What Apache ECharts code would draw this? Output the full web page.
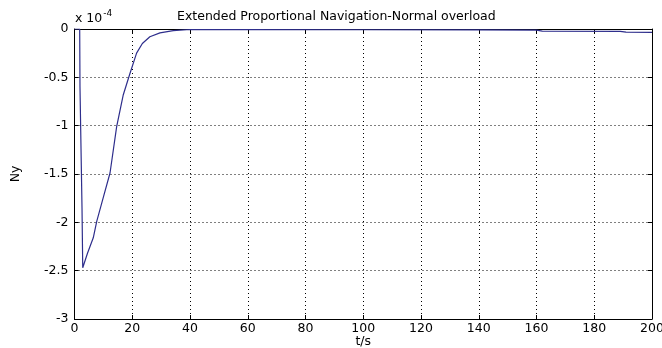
<!DOCTYPE html>
<html>
<head>
<meta charset="utf-8">
<script src="https://cdn.jsdelivr.net/npm/echarts@6/dist/echarts.min.js"></script>
<style>html,body{margin:0;padding:0;background:#fff}#c{width:662px;height:348px}</style>
</head>
<body>
<div id="c"></div>
<script>
// time (s)
var time = [0, 1.8, 1.9, 2.5, 2.6, 2.85, 4.5, 6.5, 7.7, 10, 12.3, 14.6, 16.9, 19.2, 21.5, 23.5, 26.1, 29.6, 34.2, 40, 60, 100, 140, 160, 162, 189, 191, 200];
// Ny values (x 1e-4)
var ny = [0, 0, -0.6, -0.62, -1.85, -2.47, -2.32, -2.16, -1.99, -1.74, -1.49, -1.01, -0.68, -0.46, -0.25, -0.15, -0.08, -0.04, -0.017, -0.005, -0.006, -0.008, -0.01, -0.012, -0.022, -0.024, -0.033, -0.035];
var xTicks = [0, 20, 40, 60, 80, 100, 120, 140, 160, 180, 200];
var yTicks = [0, -0.5, -1, -1.5, -2, -2.5, -3];

var data = time.map(function (t, i) { return [t, ny[i]]; });
var font = 'DejaVu Sans, Verdana, sans-serif';
var chart = echarts.init(document.getElementById('c'), null, {renderer: 'canvas'});
var dotted = {show: true, lineStyle: {color: '#000', type: [1, 3], width: 1}};
chart.setOption({
  animation: false,
  backgroundColor: '#fff',
  title: {
    text: 'Extended Proportional Navigation-Normal overload',
    left: 172, top: 5,
    textStyle: {fontFamily: font, fontSize: 12.5, fontWeight: 'normal', color: '#000'}
  },
  graphic: [{
    type: 'text', left: 75, top: 9,
    style: {
      text: '{a|x 10}{b|-4}',
      rich: {
        a: {fontFamily: font, fontSize: 12.5, fill: '#000', verticalAlign: 'bottom', height: 14},
        b: {fontFamily: font, fontSize: 9, fill: '#000', verticalAlign: 'top', padding: [0, 0, 8, 1]}
      }
    }
  }],
  grid: {left: 74.5, right: 10, top: 29, bottom: 29, containLabel: false, outerBoundsMode: 'none'},
  xAxis: [{
    type: 'value', min: 0, max: 200, interval: 20,
    name: 't/s', nameLocation: 'middle', nameGap: 16, nameMoveOverlap: false,
    nameTextStyle: {fontFamily: font, fontSize: 12.5, color: '#000'},
    axisLine: {show: true, onZero: false, lineStyle: {color: '#000', width: 1}},
    axisTick: {show: true, inside: true, length: 4, lineStyle: {color: '#000'}},
    axisLabel: {fontFamily: font, fontSize: 12.5, color: '#000', margin: 3,
      formatter: function (v) { return xTicks.indexOf(v) >= 0 ? String(v) : ''; }},
    splitLine: dotted
  }, {
    type: 'value', position: 'top', min: 0, max: 200, interval: 20,
    axisLine: {show: true, onZero: false, lineStyle: {color: '#000', width: 1}},
    axisTick: {show: true, inside: true, length: 4, lineStyle: {color: '#000'}},
    axisLabel: {show: false}, splitLine: {show: false}
  }],
  yAxis: [{
    type: 'value', min: -3, max: 0, interval: 0.5,
    name: 'Ny', nameLocation: 'middle', nameGap: 52, nameRotate: 90, nameMoveOverlap: false,
    nameTextStyle: {fontFamily: font, fontSize: 12.5, color: '#000'},
    axisLine: {show: true, onZero: false, lineStyle: {color: '#000', width: 1}},
    axisTick: {show: true, inside: true, length: 4, lineStyle: {color: '#000'}},
    axisLabel: {fontFamily: font, fontSize: 12.5, color: '#000', margin: 6,
      formatter: function (v) { return yTicks.indexOf(v) >= 0 ? String(v) : ''; }},
    splitLine: dotted
  }, {
    type: 'value', position: 'right', min: -3, max: 0, interval: 0.5,
    axisLine: {show: true, onZero: false, lineStyle: {color: '#000', width: 1}},
    axisTick: {show: true, inside: true, length: 4, lineStyle: {color: '#000'}},
    axisLabel: {show: false}, splitLine: {show: false}
  }],
  series: [{
    type: 'line', data: data, showSymbol: false, symbol: 'none',
    lineStyle: {color: '#2e2e8c', width: 1.2},
    clip: true, z: 5
  }]
});
</script>
</body>
</html>
